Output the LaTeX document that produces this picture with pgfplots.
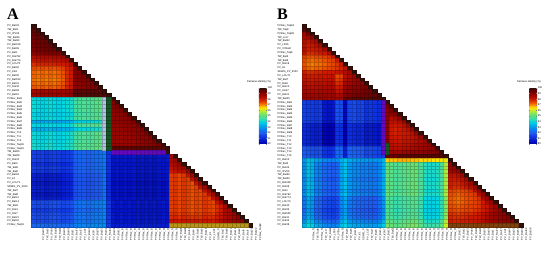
\documentclass[border=0pt]{standalone}
\usepackage{pgfplots}
\usepackage{pgfplotstable}
\usepackage{fontspec}
\setmainfont{Liberation Sans}
\newfontfamily\ser{Liberation Serif}
\pgfplotsset{compat=1.18}
\newcommand\R[2]{\addplot[cell] table[row sep=crcr,header=false,x expr=\coordindex,y expr=#1,meta index=0]{#2};}
\def\labelsA{PV\_Bat33,TW\_Bat3,PV\_IPV06,TW\_Bat36,TW\_Bat30,PV\_Bat318,PV\_Bat09,PV\_Bat1,PV\_Rat792,PV\_Rat774,PV\_LCU70,PV\_Bat40,PV\_K2A,PV\_Bat35,PV\_Bat533,PV\_Bat31,PV\_Rat32,PV\_Bat38,PV\_Bat10,PVRev\_Bat1,PVRev\_Bat2,PVRev\_Bat3,PVRev\_Bat4,PVRev\_Bat5,PVRev\_Bat6,PVRev\_Bat7,PVRev\_Bat8,PVRev\_Bat9,PVRev\_T10,PVRev\_T11,PVRev\_T12,PVRev\_Taq18,PVRev\_Taq19,TW\_Bat25,TW\_Bat28,PV\_Rat13,PV\_Bat4,TW\_Bat5,TW\_Bat6,PV\_Bat18,PV\_K1,PV\_LCU71,SDWG\_PV\_3020,TW\_Bat7,TW\_Bat8,PV\_Bat12,PV\_Bat14,TW\_Bat2,PV\_Rat4,PV\_Rat7,PV\_Bat21,PV\_Bat22,PVRev\_Taq04}
\def\labelsB{PVRev\_Taq04,TW\_Taq8,PVRev\_Taq06,TW\_Ls17,TW\_Bat42,PV\_LP66,PV\_V7Bat3,PVRev\_Taq6,TW\_Bat5,TW\_Bat6,PV\_Bat18,PV\_K1,SDWG\_PV\_3020,PV\_LCU71,TW\_Bat7,PV\_Bat8,PV\_Bat12,PV\_K2A7,PV\_Bat21,TW\_Bat25,PVRev\_Bat1,PVRev\_Bat2,PVRev\_Bat3,PVRev\_Bat4,PVRev\_Bat5,PVRev\_Bat6,PVRev\_Bat7,PVRev\_Bat8,PVRev\_Bat9,PVRev\_T10,PVRev\_T11,PVRev\_T12,PVRev\_T13,PVRev\_T14,PVRev\_T15,PV\_Bat10,TW\_Bat3,PV\_Bat33,PV\_IPV06,TW\_Bat36,TW\_Bat30,PV\_Bat318,PV\_Bat09,PV\_Bat1,PV\_Rat792,PV\_Rat774,PV\_LCU70,PV\_Bat40,PV\_Bat35,PV\_Bat533,PV\_Bat31,PV\_Rat32,PV\_Bat38}
\pgfplotsset{
 cell/.style={scatter,only marks,mark=square*,mark size=2.085pt,scatter src=explicit,
   mark options={yscale=0.918,line width=.25pt},
   scatter/use mapped color={draw=mapped color!78!black,fill=mapped color}},
 ov/.style={only marks,mark=square*,mark size=2.085pt,mark options={yscale=0.918,line width=.25pt,draw=#1!78!black,fill=#1}},
 panel/.style={anchor=south west,scale only axis,width=221pt,height=203pt,clip=false,
   xmin=-0.5,xmax=52.5,ymin=-0.5,ymax=52.5,y dir=reverse,
   axis line style={draw=none},major tick length=0pt,
   xtick={0,...,52},ytick={0,...,52},
   point meta min=900,point meta max=1000,
   colormap={sdt}{rgb255(0pt)=(0,0,170);rgb255(10pt)=(10,40,220);rgb255(20pt)=(30,90,240);rgb255(30pt)=(0,150,240);rgb255(40pt)=(0,215,225);rgb255(45pt)=(60,220,170);rgb255(53pt)=(110,225,110);rgb255(60pt)=(200,235,40);rgb255(65pt)=(255,225,0);rgb255(70pt)=(250,140,0);rgb255(74pt)=(235,80,0);rgb255(80pt)=(205,25,0);rgb255(85pt)=(170,10,0);rgb255(93pt)=(120,0,0);rgb255(100pt)=(50,15,10)},
   x tick label style={rotate=90,anchor=east,font=\fontsize{2.6}{3}\selectfont,text width=13pt,inner sep=0pt,align=left,yshift=-10pt},
   y tick label style={anchor=east,font=\fontsize{2.6}{3}\selectfont,text width=18pt,inner sep=0pt,align=left,xshift=-6pt},
   colorbar,
   colorbar style={at={(1.029,0.685)},anchor=north west,width=8pt,height=56pt,
     ytick={900,910,920,930,940,950,960,970,980,990,1000},
     yticklabels={90,91,92,93,94,95,96,97,98,99,100},
     y tick label style={font=\fontsize{2.6}{3}\selectfont,inner sep=.5pt},
     major tick length=1pt,axis line style={draw=none}},
 }}
\definecolor{ggrey}{RGB}{175,195,225}
\definecolor{dgreen}{RGB}{20,85,35}
\definecolor{purp}{RGB}{100,10,190}
\definecolor{gold}{RGB}{185,150,25}
\definecolor{brn}{RGB}{130,65,10}
\begin{document}
\begin{tikzpicture}[x=1pt,y=1pt]
\path[use as bounding box] (0,0) rectangle (550,255);
\begin{axis}[panel,at={(31.5pt,28pt)},xticklabels/.expand once=\labelsA,yticklabels/.expand once=\labelsA]
\R{0}{1000\\}
\R{1}{996\\1000\\}
\R{2}{995\\996\\1000\\}
\R{3}{994\\995\\995\\1000\\}
\R{4}{993\\994\\994\\995\\1000\\}
\R{5}{993\\993\\994\\994\\995\\1000\\}
\R{6}{992\\993\\993\\994\\994\\995\\1000\\}
\R{7}{990\\991\\991\\992\\992\\992\\993\\1000\\}
\R{8}{984\\985\\985\\985\\985\\985\\986\\988\\1000\\}
\R{9}{982\\982\\983\\983\\982\\983\\983\\984\\985\\1000\\}
\R{10}{978\\979\\979\\979\\979\\979\\980\\980\\981\\984\\1000\\}
\R{11}{975\\974\\975\\974\\975\\974\\975\\976\\979\\980\\992\\1000\\}
\R{12}{973\\972\\973\\972\\973\\972\\973\\974\\978\\980\\991\\992\\1000\\}
\R{13}{973\\972\\973\\972\\973\\972\\973\\974\\978\\980\\991\\991\\992\\1000\\}
\R{14}{972\\971\\972\\971\\972\\971\\972\\973\\978\\980\\990\\991\\991\\992\\1000\\}
\R{15}{973\\972\\973\\972\\973\\972\\973\\974\\978\\980\\990\\990\\991\\991\\992\\1000\\}
\R{16}{974\\973\\974\\973\\974\\973\\974\\975\\979\\981\\990\\990\\990\\991\\991\\992\\1000\\}
\R{17}{986\\986\\987\\986\\987\\986\\987\\987\\988\\989\\996\\996\\996\\996\\996\\996\\996\\1000\\}
\R{18}{987\\987\\988\\987\\988\\987\\988\\988\\989\\990\\997\\997\\997\\997\\997\\997\\997\\997\\1000\\}
\R{19}{941\\940\\939\\940\\941\\940\\939\\940\\941\\942\\946\\947\\948\\947\\948\\949\\950\\932\\925\\1000\\}
\R{20}{941\\940\\939\\940\\941\\940\\939\\940\\941\\942\\946\\947\\948\\947\\948\\949\\950\\932\\925\\992\\1000\\}
\R{21}{941\\940\\939\\940\\941\\940\\939\\940\\941\\942\\946\\947\\948\\947\\948\\949\\950\\932\\925\\991\\992\\1000\\}
\R{22}{941\\940\\939\\940\\941\\940\\939\\940\\941\\942\\946\\947\\948\\947\\948\\949\\950\\932\\925\\990\\991\\992\\1000\\}
\R{23}{939\\938\\938\\939\\939\\938\\938\\939\\939\\940\\945\\946\\946\\946\\947\\948\\948\\932\\925\\989\\990\\990\\992\\1000\\}
\R{24}{941\\940\\939\\940\\941\\940\\939\\940\\941\\942\\946\\947\\948\\947\\948\\949\\950\\932\\925\\989\\989\\990\\990\\992\\1000\\}
\R{25}{933\\932\\932\\933\\933\\932\\932\\933\\933\\934\\938\\939\\939\\939\\940\\941\\941\\930\\925\\989\\989\\989\\990\\990\\992\\1000\\}
\R{26}{940\\940\\939\\940\\940\\940\\939\\940\\940\\941\\946\\947\\947\\947\\948\\948\\949\\932\\925\\989\\988\\989\\989\\990\\990\\992\\1000\\}
\R{27}{934\\933\\933\\934\\934\\933\\933\\934\\934\\935\\939\\940\\940\\940\\941\\942\\942\\930\\925\\988\\988\\988\\989\\989\\990\\990\\992\\1000\\}
\R{28}{941\\940\\939\\940\\941\\940\\939\\940\\941\\942\\946\\947\\948\\947\\948\\949\\950\\932\\925\\988\\988\\988\\988\\989\\989\\990\\990\\992\\1000\\}
\R{29}{941\\940\\939\\940\\941\\940\\939\\940\\941\\942\\946\\947\\948\\947\\948\\949\\950\\932\\925\\988\\988\\987\\988\\988\\989\\989\\990\\990\\992\\1000\\}
\R{30}{941\\940\\939\\940\\941\\940\\939\\940\\941\\942\\946\\947\\948\\947\\948\\949\\950\\932\\925\\988\\987\\987\\988\\988\\988\\989\\989\\990\\990\\992\\1000\\}
\R{31}{942\\941\\940\\941\\942\\941\\940\\941\\942\\943\\947\\948\\949\\948\\949\\950\\951\\933\\925\\988\\988\\988\\988\\988\\988\\989\\989\\989\\990\\990\\992\\1000\\}
\R{32}{942\\941\\940\\941\\942\\941\\940\\941\\942\\943\\947\\948\\949\\948\\949\\950\\951\\933\\925\\996\\996\\996\\996\\996\\996\\996\\996\\996\\996\\996\\996\\996\\1000\\}
\R{33}{915\\914\\915\\913\\914\\915\\914\\913\\914\\915\\921\\922\\922\\921\\922\\923\\923\\925\\912\\905\\906\\905\\906\\905\\906\\905\\906\\905\\906\\905\\906\\905\\1000\\}
\R{34}{915\\914\\915\\913\\914\\915\\914\\913\\914\\915\\921\\922\\922\\921\\922\\923\\923\\925\\912\\905\\906\\905\\906\\905\\906\\905\\906\\905\\906\\905\\906\\905\\906\\986\\1000\\}
\R{35}{915\\914\\915\\913\\914\\915\\914\\913\\914\\915\\921\\922\\922\\921\\922\\923\\923\\925\\912\\905\\906\\905\\906\\905\\906\\905\\906\\905\\906\\905\\906\\905\\906\\985\\988\\1000\\}
\R{36}{912\\911\\912\\910\\911\\912\\911\\910\\911\\912\\920\\921\\921\\920\\921\\922\\922\\925\\911\\905\\905\\905\\905\\905\\905\\905\\905\\905\\905\\905\\905\\905\\905\\984\\986\\988\\1000\\}
\R{37}{915\\914\\915\\913\\914\\915\\914\\913\\914\\915\\921\\922\\922\\921\\922\\923\\923\\925\\912\\905\\906\\905\\906\\905\\906\\905\\906\\905\\906\\905\\906\\905\\906\\982\\984\\985\\988\\1000\\}
\R{38}{913\\912\\913\\911\\912\\913\\912\\911\\912\\913\\920\\921\\921\\920\\921\\922\\922\\925\\912\\905\\906\\905\\906\\905\\906\\905\\906\\905\\906\\905\\906\\905\\906\\980\\982\\983\\984\\988\\1000\\}
\R{39}{908\\907\\908\\906\\907\\908\\907\\908\\909\\910\\918\\919\\919\\918\\919\\920\\920\\924\\910\\904\\905\\904\\905\\904\\905\\904\\905\\904\\905\\904\\905\\904\\905\\976\\977\\975\\977\\982\\987\\1000\\}
\R{40}{908\\907\\908\\906\\907\\908\\907\\908\\909\\910\\918\\919\\919\\918\\919\\920\\920\\924\\910\\904\\905\\904\\905\\904\\905\\904\\905\\904\\905\\904\\905\\904\\905\\976\\977\\975\\977\\976\\982\\987\\1000\\}
\R{41}{906\\905\\906\\904\\905\\906\\905\\906\\907\\908\\917\\918\\918\\917\\918\\919\\919\\924\\910\\903\\904\\903\\904\\903\\904\\903\\904\\903\\904\\903\\904\\903\\904\\976\\977\\975\\977\\976\\974\\982\\987\\1000\\}
\R{42}{908\\907\\908\\906\\907\\908\\907\\908\\909\\910\\918\\919\\919\\918\\919\\920\\920\\924\\910\\904\\905\\904\\905\\904\\905\\904\\905\\904\\905\\904\\905\\904\\905\\976\\977\\975\\977\\976\\974\\976\\982\\987\\1000\\}
\R{43}{908\\907\\908\\906\\907\\908\\907\\908\\909\\910\\918\\919\\919\\918\\919\\920\\920\\924\\910\\904\\905\\904\\905\\904\\905\\904\\905\\904\\905\\904\\905\\904\\905\\976\\977\\975\\977\\976\\974\\976\\975\\982\\987\\1000\\}
\R{44}{906\\905\\906\\904\\905\\906\\905\\906\\907\\908\\917\\918\\918\\917\\918\\919\\919\\924\\910\\903\\904\\903\\904\\903\\904\\903\\904\\903\\904\\903\\904\\903\\904\\976\\977\\975\\977\\976\\974\\976\\975\\977\\982\\987\\1000\\}
\R{45}{908\\907\\908\\906\\907\\908\\907\\908\\909\\910\\918\\919\\919\\918\\919\\920\\920\\924\\910\\904\\905\\904\\905\\904\\905\\904\\905\\904\\905\\904\\905\\904\\905\\976\\977\\975\\977\\976\\974\\976\\975\\977\\976\\982\\987\\1000\\}
\R{46}{917\\916\\917\\916\\917\\918\\917\\916\\917\\918\\923\\924\\924\\923\\924\\925\\925\\927\\913\\906\\905\\906\\905\\906\\905\\906\\905\\906\\905\\906\\905\\906\\905\\976\\977\\975\\977\\976\\974\\976\\975\\977\\976\\975\\982\\987\\1000\\}
\R{47}{917\\916\\917\\916\\917\\918\\917\\916\\917\\918\\923\\924\\924\\923\\924\\925\\925\\927\\913\\906\\905\\906\\905\\906\\905\\906\\905\\906\\905\\906\\905\\906\\905\\976\\977\\975\\977\\976\\974\\976\\975\\977\\976\\975\\978\\980\\985\\1000\\}
\R{48}{914\\913\\914\\913\\914\\915\\914\\913\\914\\915\\921\\922\\922\\921\\922\\923\\923\\926\\912\\905\\905\\905\\905\\905\\905\\905\\905\\905\\905\\905\\905\\905\\905\\976\\977\\975\\977\\976\\974\\976\\975\\977\\976\\975\\978\\980\\985\\986\\1000\\}
\R{49}{917\\916\\917\\916\\917\\918\\917\\916\\917\\918\\923\\924\\924\\923\\924\\925\\925\\927\\913\\906\\905\\906\\905\\906\\905\\906\\905\\906\\905\\906\\905\\906\\905\\977\\978\\976\\978\\977\\975\\977\\976\\978\\977\\976\\979\\981\\985\\986\\988\\1000\\}
\R{50}{917\\916\\917\\916\\917\\918\\917\\916\\917\\918\\923\\924\\924\\923\\924\\925\\925\\927\\913\\906\\905\\906\\905\\906\\905\\906\\905\\906\\905\\906\\905\\906\\905\\978\\979\\977\\979\\978\\977\\978\\977\\979\\978\\978\\980\\982\\985\\986\\988\\990\\1000\\}
\R{51}{917\\916\\917\\916\\917\\918\\917\\916\\917\\918\\923\\924\\924\\923\\924\\925\\925\\927\\913\\906\\905\\906\\905\\906\\905\\906\\905\\906\\905\\906\\905\\906\\905\\981\\981\\980\\981\\981\\980\\981\\980\\981\\981\\980\\982\\984\\986\\987\\988\\989\\990\\1000\\}
\R{52}{922\\922\\923\\922\\922\\923\\922\\922\\923\\923\\926\\927\\927\\926\\927\\928\\928\\928\\914\\907\\907\\907\\907\\907\\907\\907\\907\\907\\907\\907\\907\\907\\907\\969\\969\\969\\969\\969\\969\\969\\969\\969\\969\\969\\969\\969\\969\\969\\969\\969\\969\\969\\1000\\}
\addplot[ov=ggrey] coordinates {(17,19)(17,20)(17,21)(17,22)(17,23)(17,24)(17,25)(17,26)(17,27)(17,28)(17,29)(17,30)(17,31)(17,32)};
\addplot[ov=dgreen] coordinates {(18,19)(18,20)(18,21)(18,22)(18,23)(18,24)(18,25)(18,26)(18,27)(18,28)(18,29)(18,30)(18,31)(18,32)};
\addplot[ov=purp] coordinates {(19,33)(20,33)(21,33)(22,33)(23,33)(24,33)(25,33)(26,33)(27,33)(28,33)(29,33)(30,33)(31,33)};
\addplot[ov=gold] coordinates {(33,52)(34,52)(35,52)(36,52)(37,52)(38,52)(39,52)(40,52)(41,52)(42,52)(43,52)(44,52)(45,52)(46,52)(47,52)(48,52)(49,52)(50,52)(51,52)};
\end{axis}
\begin{axis}[panel,at={(301.7pt,28pt)},xticklabels/.expand once=\labelsB,yticklabels/.expand once=\labelsB]
\R{0}{1000\\}
\R{1}{996\\1000\\}
\R{2}{986\\993\\1000\\}
\R{3}{985\\986\\990\\1000\\}
\R{4}{984\\982\\984\\986\\1000\\}
\R{5}{983\\980\\981\\983\\986\\1000\\}
\R{6}{984\\980\\980\\981\\982\\986\\1000\\}
\R{7}{982\\978\\978\\979\\980\\981\\985\\1000\\}
\R{8}{976\\974\\974\\975\\975\\976\\977\\980\\1000\\}
\R{9}{975\\973\\972\\973\\973\\974\\975\\976\\980\\1000\\}
\R{10}{974\\972\\971\\972\\972\\973\\974\\975\\977\\980\\1000\\}
\R{11}{975\\973\\972\\973\\973\\974\\975\\976\\977\\979\\982\\1000\\}
\R{12}{980\\978\\978\\979\\979\\980\\980\\980\\981\\982\\984\\986\\1000\\}
\R{13}{982\\980\\980\\980\\981\\981\\981\\982\\975\\976\\983\\985\\987\\1000\\}
\R{14}{982\\981\\980\\981\\981\\982\\982\\982\\976\\977\\984\\986\\987\\988\\1000\\}
\R{15}{984\\982\\982\\983\\983\\983\\984\\984\\978\\979\\986\\987\\988\\989\\990\\1000\\}
\R{16}{985\\984\\983\\984\\984\\985\\985\\985\\980\\981\\988\\989\\990\\990\\991\\992\\1000\\}
\R{17}{986\\985\\985\\985\\986\\986\\986\\987\\982\\983\\990\\990\\991\\991\\992\\993\\993\\1000\\}
\R{18}{988\\987\\987\\987\\988\\988\\988\\988\\985\\986\\991\\992\\992\\993\\993\\994\\994\\995\\1000\\}
\R{19}{988\\987\\988\\987\\988\\988\\987\\988\\986\\986\\995\\995\\996\\996\\996\\996\\997\\997\\997\\1000\\}
\R{20}{915\\914\\914\\913\\914\\906\\905\\906\\918\\917\\902\\916\\917\\915\\916\\912\\913\\912\\911\\914\\1000\\}
\R{21}{915\\914\\914\\913\\914\\906\\905\\906\\918\\917\\902\\916\\917\\915\\916\\912\\913\\912\\911\\914\\993\\1000\\}
\R{22}{915\\914\\914\\913\\914\\906\\905\\906\\918\\917\\902\\916\\917\\915\\916\\912\\913\\912\\911\\914\\991\\992\\1000\\}
\R{23}{915\\914\\914\\913\\914\\906\\905\\906\\918\\917\\902\\916\\917\\915\\916\\912\\913\\912\\911\\914\\990\\990\\991\\1000\\}
\R{24}{915\\914\\914\\913\\914\\906\\905\\906\\918\\917\\902\\916\\917\\915\\916\\912\\913\\912\\911\\914\\990\\984\\986\\990\\1000\\}
\R{25}{915\\914\\914\\913\\914\\906\\905\\906\\918\\917\\902\\916\\917\\915\\916\\912\\913\\912\\911\\914\\990\\982\\982\\984\\988\\1000\\}
\R{26}{910\\909\\908\\907\\908\\901\\900\\901\\912\\911\\900\\911\\910\\909\\910\\906\\907\\906\\905\\914\\990\\981\\980\\981\\983\\988\\1000\\}
\R{27}{910\\909\\908\\907\\908\\901\\900\\901\\912\\911\\900\\911\\910\\909\\910\\906\\907\\906\\905\\914\\990\\980\\979\\980\\981\\983\\988\\1000\\}
\R{28}{910\\909\\908\\907\\908\\901\\900\\901\\912\\911\\900\\911\\910\\909\\910\\906\\907\\906\\905\\914\\990\\980\\979\\980\\980\\981\\983\\988\\1000\\}
\R{29}{910\\909\\908\\907\\908\\901\\900\\901\\912\\911\\900\\911\\910\\909\\910\\906\\907\\906\\905\\914\\990\\981\\980\\980\\981\\981\\982\\984\\988\\1000\\}
\R{30}{910\\909\\908\\907\\908\\901\\900\\901\\912\\911\\900\\911\\910\\909\\910\\906\\907\\906\\905\\914\\992\\982\\981\\981\\982\\982\\983\\984\\985\\988\\1000\\}
\R{31}{910\\909\\908\\907\\908\\901\\900\\901\\912\\911\\900\\911\\910\\909\\910\\906\\907\\906\\905\\914\\993\\983\\982\\982\\983\\983\\984\\985\\986\\987\\989\\1000\\}
\R{32}{920\\919\\918\\917\\918\\912\\911\\912\\922\\921\\908\\921\\921\\920\\920\\916\\917\\916\\915\\914\\994\\984\\983\\983\\984\\984\\985\\986\\987\\988\\989\\990\\1000\\}
\R{33}{920\\919\\918\\917\\918\\912\\911\\912\\922\\921\\908\\921\\921\\920\\920\\916\\917\\916\\915\\914\\995\\988\\987\\987\\988\\988\\989\\989\\990\\990\\991\\991\\992\\1000\\}
\R{34}{920\\919\\918\\917\\918\\912\\911\\912\\922\\921\\908\\921\\921\\920\\920\\916\\917\\916\\915\\914\\996\\995\\995\\996\\996\\996\\996\\996\\997\\997\\997\\997\\997\\997\\1000\\}
\R{35}{930\\936\\935\\932\\931\\928\\927\\927\\929\\934\\937\\933\\932\\931\\931\\931\\930\\930\\931\\935\\966\\967\\967\\968\\968\\968\\967\\967\\966\\966\\966\\965\\965\\964\\963\\1000\\}
\R{36}{928\\936\\934\\927\\926\\922\\921\\920\\922\\932\\937\\930\\928\\927\\926\\926\\925\\925\\927\\934\\952\\950\\948\\948\\950\\950\\952\\952\\948\\943\\942\\942\\943\\947\\958\\989\\1000\\}
\R{37}{928\\936\\934\\927\\926\\922\\921\\920\\922\\932\\937\\930\\928\\927\\926\\926\\925\\925\\927\\934\\952\\950\\948\\948\\950\\950\\952\\952\\948\\943\\942\\942\\943\\947\\958\\988\\989\\1000\\}
\R{38}{928\\936\\934\\927\\926\\922\\921\\920\\922\\932\\937\\930\\928\\927\\926\\926\\925\\925\\927\\934\\952\\950\\948\\948\\950\\950\\952\\952\\948\\943\\942\\942\\943\\947\\958\\987\\988\\989\\1000\\}
\R{39}{928\\936\\934\\927\\926\\922\\921\\920\\922\\932\\937\\930\\928\\927\\926\\926\\925\\925\\927\\934\\952\\950\\948\\948\\950\\950\\952\\952\\948\\943\\942\\942\\943\\947\\958\\983\\982\\984\\987\\1000\\}
\R{40}{926\\934\\932\\925\\924\\920\\919\\918\\920\\930\\935\\928\\926\\925\\924\\924\\923\\923\\925\\932\\951\\949\\947\\947\\949\\949\\951\\951\\947\\942\\941\\941\\942\\946\\957\\981\\980\\981\\983\\987\\1000\\}
\R{41}{928\\936\\934\\927\\926\\922\\921\\920\\922\\932\\937\\930\\928\\927\\926\\926\\925\\925\\927\\934\\952\\950\\948\\948\\950\\950\\952\\952\\948\\943\\942\\942\\943\\947\\958\\980\\979\\979\\981\\983\\987\\1000\\}
\R{42}{928\\936\\934\\927\\926\\922\\921\\920\\922\\932\\937\\930\\928\\927\\926\\926\\925\\925\\927\\934\\952\\950\\948\\948\\950\\950\\952\\952\\948\\943\\942\\942\\943\\947\\958\\980\\978\\978\\979\\981\\984\\988\\1000\\}
\R{43}{926\\934\\932\\925\\924\\920\\919\\918\\920\\930\\935\\928\\926\\925\\924\\924\\923\\923\\925\\932\\951\\949\\947\\947\\949\\949\\951\\951\\947\\942\\941\\941\\942\\946\\957\\976\\975\\974\\975\\976\\978\\984\\988\\1000\\}
\R{44}{928\\936\\934\\927\\926\\922\\921\\920\\922\\932\\937\\930\\928\\927\\926\\926\\925\\925\\927\\934\\952\\950\\948\\948\\950\\950\\952\\952\\948\\943\\942\\942\\943\\947\\958\\975\\974\\973\\974\\975\\976\\977\\984\\988\\1000\\}
\R{45}{924\\932\\930\\922\\921\\917\\916\\915\\917\\927\\933\\925\\923\\922\\921\\921\\920\\920\\923\\930\\949\\947\\945\\945\\947\\947\\949\\949\\945\\940\\939\\939\\940\\944\\955\\974\\973\\972\\973\\974\\975\\976\\978\\985\\988\\1000\\}
\R{46}{924\\932\\930\\922\\921\\917\\916\\915\\917\\927\\933\\925\\923\\922\\921\\921\\920\\920\\923\\930\\949\\947\\945\\945\\947\\947\\949\\949\\945\\940\\939\\939\\940\\944\\955\\974\\973\\972\\973\\974\\975\\976\\977\\980\\985\\988\\1000\\}
\R{47}{924\\932\\930\\922\\921\\917\\916\\915\\917\\927\\933\\925\\923\\922\\921\\921\\920\\920\\923\\930\\949\\947\\945\\945\\947\\947\\949\\949\\945\\940\\939\\939\\940\\944\\955\\975\\974\\973\\974\\975\\976\\976\\977\\980\\981\\985\\988\\1000\\}
\R{48}{921\\930\\928\\920\\919\\915\\914\\913\\915\\925\\931\\923\\921\\920\\919\\919\\918\\918\\921\\928\\948\\946\\944\\944\\946\\946\\948\\948\\944\\939\\938\\938\\939\\943\\954\\976\\975\\974\\975\\976\\976\\977\\978\\980\\982\\985\\987\\989\\1000\\}
\R{49}{924\\932\\930\\922\\921\\917\\916\\915\\917\\927\\933\\925\\923\\922\\921\\921\\920\\920\\923\\930\\949\\947\\945\\945\\947\\947\\949\\949\\945\\940\\939\\939\\940\\944\\955\\978\\977\\976\\977\\978\\978\\979\\980\\982\\984\\986\\988\\989\\990\\1000\\}
\R{50}{924\\932\\930\\922\\921\\917\\916\\915\\917\\927\\933\\925\\923\\922\\921\\921\\920\\920\\923\\930\\949\\947\\945\\945\\947\\947\\949\\949\\945\\940\\939\\939\\940\\944\\955\\979\\978\\978\\978\\979\\980\\980\\981\\983\\985\\987\\988\\989\\990\\991\\1000\\}
\R{51}{928\\936\\934\\927\\926\\922\\921\\920\\922\\932\\937\\930\\928\\927\\926\\926\\925\\925\\927\\934\\952\\950\\948\\948\\950\\950\\952\\952\\948\\943\\942\\942\\943\\947\\958\\980\\979\\979\\980\\980\\981\\981\\982\\984\\986\\987\\988\\989\\990\\990\\991\\1000\\}
\R{52}{934\\940\\938\\933\\932\\928\\927\\926\\928\\936\\940\\934\\933\\932\\932\\931\\931\\931\\933\\938\\954\\952\\950\\950\\952\\952\\954\\954\\950\\946\\945\\945\\946\\950\\960\\985\\985\\985\\985\\985\\985\\985\\985\\985\\985\\985\\985\\985\\985\\985\\985\\985\\1000\\}
\addplot[ov=purp] coordinates {(19,20)(19,21)(19,22)(19,23)(19,24)(19,25)(19,26)(19,27)(19,28)(19,29)(19,30)(19,31)(19,32)(19,33)};
\addplot[ov=dgreen] coordinates {(20,31)(20,32)(20,33)};
\addplot[ov=brn] coordinates {(35,52)(36,52)(37,52)(38,52)(39,52)(40,52)(41,52)(42,52)(43,52)(44,52)(45,52)(46,52)(47,52)(48,52)(49,52)(50,52)(51,52)};
\end{axis}
\node[font=\ser\bfseries\fontsize{16}{16}\selectfont,anchor=west] at (3.5,240.5) {A};
\node[font=\ser\bfseries\fontsize{16}{16}\selectfont,anchor=west] at (273.5,240.5) {B};
\node[font=\fontsize{2.6}{3}\selectfont,anchor=center] at (259,173) {Pairwise identity (\%)};
\node[font=\fontsize{2.6}{3}\selectfont,anchor=center] at (529,173) {Pairwise identity (\%)};
\end{tikzpicture}
\end{document}
